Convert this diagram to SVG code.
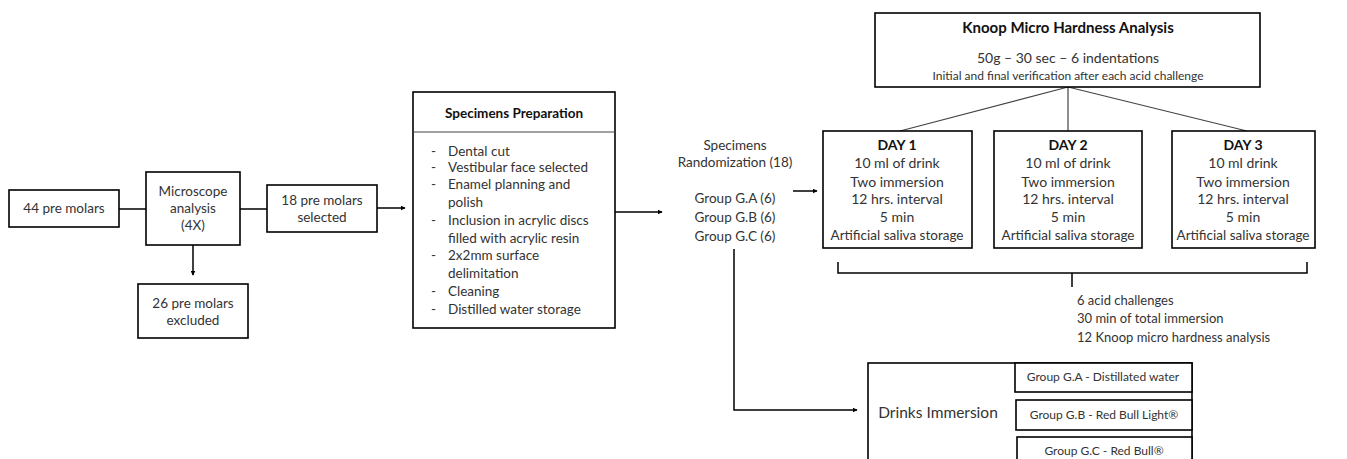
<svg xmlns="http://www.w3.org/2000/svg" width="1347" height="459" viewBox="0 0 1347 459">
<defs>
<marker id="ah" viewBox="0 0 8 8" refX="7" refY="4" markerWidth="5" markerHeight="5" orient="auto" markerUnits="userSpaceOnUse">
<path d="M0,0 L8,4 L0,8 z" fill="#000"/>
</marker>
<style>
.box{fill:#fff;stroke:#000;stroke-width:1.6}
.ln{fill:none;stroke:#000;stroke-width:1.5}
.thin{fill:none;stroke:#444;stroke-width:1.2}
text{font-family:Lato,"Liberation Sans",sans-serif;fill:#333;font-size:13.5px}
.c{text-anchor:middle}
.b{font-weight:bold;fill:#111}
.s{font-size:12px}
.d{font-size:14px}
.a{font-size:13.5px}
</style>
</defs>
<rect width="1347" height="459" fill="#fff"/>
<g id="connectors">
<path class="ln" d="M119,209 H146"/>
<path class="ln" d="M240,209 H267"/>
<path class="ln" d="M377,208 H405" marker-end="url(#ah)"/>
<path class="ln" d="M193,245 V275" marker-end="url(#ah)"/>
<path class="ln" d="M615,212 H662" marker-end="url(#ah)"/>
<path class="ln" d="M793,191 H817" marker-end="url(#ah)"/>
<path class="ln" d="M734,249 V410 H857" marker-end="url(#ah)"/>
<path class="thin" d="M1068,87 L900,131 M1068,87 V131 M1068,87 L1247,131"/>
<path class="ln" d="M838,262 V273 H1307 V262 M1072,273 V287"/>
</g>
<g id="n44">
<rect class="box" x="9" y="190" width="110" height="37"/>
<text class="c" x="64" y="213">44 pre molars</text>
</g>
<g id="microscope">
<rect class="box" x="146" y="172" width="94" height="73"/>
<text class="c" x="193" y="196">Microscope</text>
<text class="c" x="193" y="213">analysis</text>
<text class="c" x="193" y="230">(4X)</text>
</g>
<g id="n18">
<rect class="box" x="267" y="185" width="110" height="47"/>
<text class="c" x="322" y="205">18 pre molars</text>
<text class="c" x="322" y="222">selected</text>
</g>
<g id="n26">
<rect class="box" x="138" y="284" width="110" height="54"/>
<text class="c" x="193" y="308">26 pre molars</text>
<text class="c" x="193" y="325">excluded</text>
</g>
<g id="prep">
<rect class="box" x="413" y="92" width="202" height="236"/>
<line class="thin" x1="413" y1="132" x2="615" y2="132"/>
<text class="c b" x="514" y="118" style="font-size:13.5px">Specimens Preparation</text>
<g>
<text x="431" y="156">-</text><text x="448" y="156">Dental cut</text>
<text x="431" y="172">-</text><text x="448" y="172">Vestibular face selected</text>
<text x="431" y="189">-</text><text x="448" y="189">Enamel planning and</text>
<text x="448" y="207">polish</text>
<text x="431" y="225">-</text><text x="448" y="225">Inclusion in acrylic discs</text>
<text x="448" y="243">filled with acrylic resin</text>
<text x="431" y="260">-</text><text x="448" y="260">2x2mm surface</text>
<text x="448" y="278">delimitation</text>
<text x="431" y="296">-</text><text x="448" y="296">Cleaning</text>
<text x="431" y="314">-</text><text x="448" y="314">Distilled water storage</text>
</g>
</g>
<g id="random">
<text class="c" x="735" y="150">Specimens</text>
<text class="c" x="735" y="167">Randomization (18)</text>
<text class="c" x="735" y="203">Group G.A (6)</text>
<text class="c" x="735" y="222">Group G.B (6)</text>
<text class="c" x="735" y="241">Group G.C (6)</text>
</g>
<g id="knoop">
<rect class="box" x="875" y="13" width="385" height="74"/>
<text class="c b" x="1068" y="33" style="font-size:15px">Knoop Micro Hardness Analysis</text>
<text class="c" x="1068" y="63" style="font-size:14px">50g – 30 sec – 6 indentations</text>
<text class="c s" x="1068" y="80">Initial and final verification after each acid challenge</text>
</g>
<g id="day1">
<rect class="box" x="823" y="131" width="149" height="117"/>
<text class="c b d" x="897" y="150">DAY 1</text>
<text class="c d" x="897" y="168">10 ml of drink</text>
<text class="c d" x="897" y="187">Two immersion</text>
<text class="c d" x="897" y="204">12 hrs. interval</text>
<text class="c d" x="897" y="222">5 min</text>
<text class="c a" x="897" y="240">Artificial saliva storage</text>
</g>
<g id="day2">
<rect class="box" x="994" y="131" width="148" height="117"/>
<text class="c b d" x="1068" y="150">DAY 2</text>
<text class="c d" x="1068" y="168">10 ml of drink</text>
<text class="c d" x="1068" y="187">Two immersion</text>
<text class="c d" x="1068" y="204">12 hrs. interval</text>
<text class="c d" x="1068" y="222">5 min</text>
<text class="c a" x="1068" y="240">Artificial saliva storage</text>
</g>
<g id="day3">
<rect class="box" x="1172" y="131" width="143" height="117"/>
<text class="c b d" x="1243" y="150">DAY 3</text>
<text class="c d" x="1243" y="168">10 ml drink</text>
<text class="c d" x="1243" y="187">Two immersion</text>
<text class="c d" x="1243" y="204">12 hrs. interval</text>
<text class="c d" x="1243" y="222">5 min</text>
<text class="c a" x="1243" y="240">Artificial saliva storage</text>
</g>
<g id="summary">
<text x="1077" y="305" style="font-size:13px">6 acid challenges</text>
<text x="1077" y="323" style="font-size:13px">30 min of total immersion</text>
<text x="1077" y="342" style="font-size:13px">12 Knoop micro hardness analysis</text>
</g>
<g id="drinks">
<rect class="box" x="868" y="363" width="324" height="110"/>
<text class="c" x="938" y="418" style="font-size:15.5px">Drinks Immersion</text>
<rect class="box" x="1015" y="363" width="177" height="29"/>
<text class="c s" x="1103" y="381">Group G.A - Distillated water</text>
<rect class="box" x="1016" y="400" width="176" height="30"/>
<text class="c s" x="1104" y="419">Group G.B - Red Bull Light®</text>
<rect class="box" x="1017" y="437" width="175" height="30"/>
<text class="c s" x="1104" y="455">Group G.C - Red Bull®</text>
</g>
</svg>
